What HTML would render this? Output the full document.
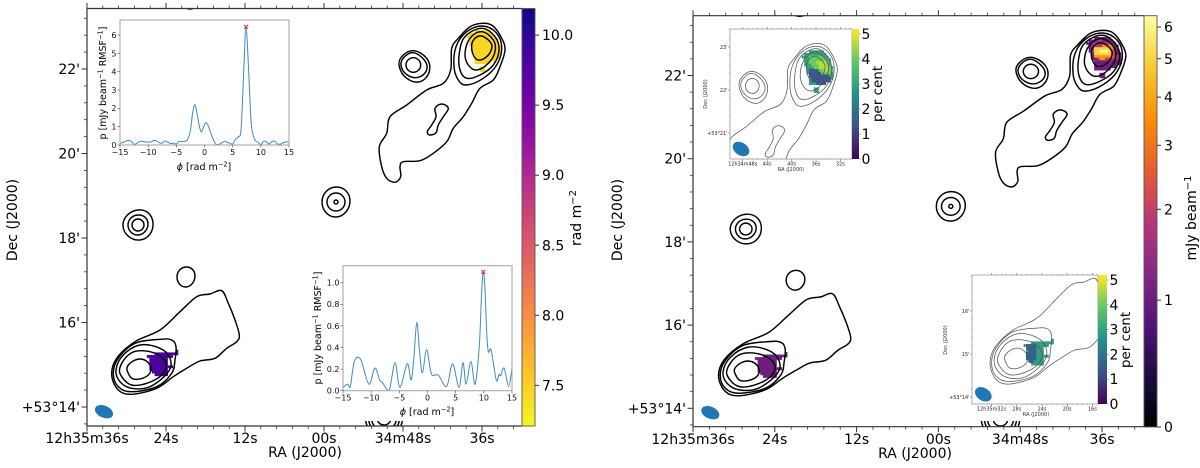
<!DOCTYPE html>
<html lang="en">
<head>
<meta charset="utf-8">
<title>Radio galaxy polarization maps</title>
<style>
html,body{margin:0;padding:0;background:#fff;width:1200px;height:468px;overflow:hidden}
svg{display:block;font-family:"DejaVu Sans","Liberation Sans",sans-serif}
</style>
</head>
<body>
<svg id="fig" xmlns="http://www.w3.org/2000/svg" width="1200" height="468" viewBox="0 0 1200 468">
  <defs>
    <linearGradient id="gPlasma" x1="0" y1="0" x2="0" y2="1">
      <stop offset="0" stop-color="#0d0887"/><stop offset=".1" stop-color="#41049d"/><stop offset=".2" stop-color="#6a00a8"/><stop offset=".3" stop-color="#8f0da4"/><stop offset=".4" stop-color="#b12a90"/><stop offset=".5" stop-color="#cc4778"/><stop offset=".6" stop-color="#e16462"/><stop offset=".7" stop-color="#f2844b"/><stop offset=".8" stop-color="#fca636"/><stop offset=".9" stop-color="#fcce25"/><stop offset="1" stop-color="#f0f921"/>
    </linearGradient>
    <linearGradient id="gInferno" x1="0" y1="1" x2="0" y2="0">
      <stop offset="0" stop-color="#000004"/><stop offset=".125" stop-color="#1b0c41"/><stop offset=".25" stop-color="#51127c"/><stop offset=".375" stop-color="#862781"/><stop offset=".5" stop-color="#b73779"/><stop offset=".625" stop-color="#e65d2f"/><stop offset=".75" stop-color="#f98e09"/><stop offset=".875" stop-color="#f8c932"/><stop offset="1" stop-color="#fcffa4"/>
    </linearGradient>
    <linearGradient id="gViridis" x1="0" y1="1" x2="0" y2="0">
      <stop offset="0" stop-color="#440154"/><stop offset=".25" stop-color="#3b528b"/><stop offset=".5" stop-color="#21918c"/><stop offset=".75" stop-color="#5ec962"/><stop offset="1" stop-color="#fde725"/>
    </linearGradient>
    <clipPath id="clipL"><rect x="87" y="8.5" width="435" height="417.5"/></clipPath>
    <clipPath id="clipR"><rect x="693" y="15.7" width="451" height="411"/></clipPath>
    <clipPath id="clipIA"><rect x="730" y="29" width="122" height="130"/></clipPath>
    <clipPath id="clipIB"><rect x="972" y="275" width="126" height="129"/></clipPath>
    <clipPath id="clipSA"><rect x="120" y="20" width="169" height="125"/></clipPath>
    <clipPath id="clipSB"><rect x="343" y="265.7" width="169" height="125"/></clipPath>
  </defs>

  <text x="305" y="457" font-size="14" text-anchor="middle">RA (J2000)</text>
  <text transform="translate(17,220) rotate(-90)" font-size="14" text-anchor="middle">Dec (J2000)</text>
  <text transform="translate(581,218) rotate(-90)" font-size="14" text-anchor="middle">rad m<tspan font-size="10" dy="-5">−2</tspan></text>

  <text x="915" y="458" font-size="14" text-anchor="middle">RA (J2000)</text>
  <text transform="translate(622,220) rotate(-90)" font-size="14" text-anchor="middle">Dec (J2000)</text>
  <text transform="translate(1196,218) rotate(-90)" font-size="14" text-anchor="middle">mJy beam<tspan font-size="10" dy="-5">−1</tspan></text>

  <g id="layer"></g>

  <text x="204" y="170" font-size="9.5" text-anchor="middle"><tspan font-style="italic">ϕ</tspan> [rad m<tspan font-size="6.6" dy="-3.4">−2</tspan><tspan dy="3.4">]</tspan></text>
  <text transform="translate(106,83) rotate(-90)" font-size="9.5" text-anchor="middle">p [mJy beam<tspan font-size="6.6" dy="-3.4">−1</tspan><tspan dy="3.4"> RMSF</tspan><tspan font-size="6.6" dy="-3.4">−1</tspan><tspan dy="3.4">]</tspan></text>
  <text x="427" y="415" font-size="9.5" text-anchor="middle"><tspan font-style="italic">ϕ</tspan> [rad m<tspan font-size="6.6" dy="-3.4">−2</tspan><tspan dy="3.4">]</tspan></text>
  <text transform="translate(321,328) rotate(-90)" font-size="9.5" text-anchor="middle">p [mJy beam<tspan font-size="6.6" dy="-3.4">−1</tspan><tspan dy="3.4"> RMSF</tspan><tspan font-size="6.6" dy="-3.4">−1</tspan><tspan dy="3.4">]</tspan></text>

  <text x="791" y="171" font-size="5" fill="#333" text-anchor="middle">RA (J2000)</text>
  <text transform="translate(707,94) rotate(-90)" font-size="5" fill="#333" text-anchor="middle">Dec (J2000)</text>
  <text transform="translate(882,94) rotate(-90)" font-size="13.5" text-anchor="middle">per cent</text>
  <text x="1036" y="416" font-size="5" fill="#333" text-anchor="middle">RA (J2000)</text>
  <text transform="translate(947,340) rotate(-90)" font-size="5" fill="#333" text-anchor="middle">Dec (J2000)</text>
  <text transform="translate(1130,340) rotate(-90)" font-size="13.5" text-anchor="middle">per cent</text>
</svg>

<script>
// ---------- Spectrum data (Faraday depth, polarized intensity) ----------
const phiA = [-15,-14.5,-14,-13.5,-13,-12.5,-12,-11.5,-11,-10.5,-10,-9.5,-9,-8.5,-8,-7.5,-7,-6.5,-6,-5.5,-5,-4.5,-4,-3.5,-3,-2.5,-2.1,-1.7,-1.3,-1,-0.6,-0.2,0.2,0.6,1,1.5,2,2.5,3,3.5,4,4.5,5,5.5,6,6.5,7,7.37,7.8,8.2,8.5,9,9.5,10,10.5,11,11.5,12,12.5,13,13.5,14,14.5,15];
const pA = [0.1,0.13,0.2,0.25,0.2,0.03,0.1,0.2,0.2,0.17,0.16,0.17,0.25,0.22,0.12,0.1,0.22,0.15,0.08,0.1,0.05,0.2,0.18,0.2,0.3,0.8,1.75,2.2,1.7,1.15,0.72,0.95,1.22,1.1,0.75,0.35,0.05,0.03,0.1,0.2,0.15,0.1,0.05,0.3,0.45,0.9,4.3,6.45,4.3,1.6,0.7,0.25,0.15,0.02,0.2,0.18,0.05,0.2,0.2,0.05,0.05,0.12,0.17,0.16];
const peakA = [7.37, 6.45];
const xTicksA = [-15,-10,-5,0,5,10,15];
const yTicksA = [0,1,2,3,4,5,6];

const phiB = [-15,-14.2,-13.7,-13.1,-12.45,-11.7,-10.4,-9.35,-8.5,-8,-7.3,-6.7,-5.75,-4.9,-3.6,-2.9,-2.4,-1.9,-1.4,-0.9,-0.15,0.7,1.9,3.4,4.45,5.6,6.3,6.85,7.7,8.45,9.2,9.6,9.9,10.2,10.5,10.8,11.3,12.2,12.7,13,13.6,14.4,15];
const pB = [0.03,0.06,0.04,0.25,0.31,0.27,0.06,0.21,0.1,0.075,0.02,0.02,0.26,0.03,0.25,0.1,0.32,0.63,0.36,0.165,0.38,0.155,0.145,0.04,0.25,0.03,0.26,0.06,0.27,0.06,0.42,0.9,1.1,0.95,0.55,0.36,0.375,0.1,0.15,0.14,0.21,0.04,0.21];
const peakB = [9.9, 1.1];
const xTicksB = [-15,-10,-5,0,5,10,15];
const yTicksB = [0,0.2,0.4,0.6,0.8,1.0];

// ---------- Sky contours: one unit = 1/79 of 12 s in RA, 1/84.5 of 2' in Dec, origin 12h35m36s +53°14' ----------
const contourNorthOuter = [[395.7,383.7],[406,381],[414.7,368.7],[418,357],[413,340.3],[406.3,327],[393,318.7],[384.7,303.7],[376.3,290.3],[366.3,278.7],[359.7,265.3],[346.3,253.7],[333,246.3],[316.3,245.3],[313,240.3],[313.7,230.3],[308,224.7],[299.7,228.7],[294.7,240.3],[292.3,260.3],[299.7,273.7],[303,290.3],[319.7,302],[339.7,317],[356.3,323.7],[363.7,337],[364.7,358.7],[371.3,368.7],[383,380.3]];
const contourNorth2 = [[395.7,381],[409.7,373.7],[414.7,358.7],[409.7,342],[396.3,328.7],[379.7,322],[371.3,327],[367,340.3],[369,360.3],[379.7,375.3]];
const contourNorth3 = [[394.7,378.7],[408,370.3],[412,357],[406.3,342],[393,332],[379.7,328.7],[373,337],[372.3,353.7],[378,370.3]];
const contourNorth4 = [[394.7,375.3],[406.3,367],[408,355.3],[401.3,343.7],[389.7,337],[381.3,342],[378,353.7],[383,368.7]];
const contourNorth5 = [[394.7,371],[403,365.3],[404.7,358.7],[399.7,350.3],[391.3,347],[386.3,352],[384.7,362],[388,368.7]];
const contourJetKnot = [[354.7,303],[361.3,298.7],[356.3,290.3],[351.3,282],[349,274.3],[343,272],[340.3,275.3],[344.7,282],[349,290.3],[348,298.7]];
const contourRing1 = [[326.3,356.3],[339.7,348.7],[342.3,335.3],[333,325.3],[319.7,328.7],[312.3,340.3],[314.7,350.3]];
const contourRing2 = [[326.3,354.3],[337.3,347],[339.7,337],[331.3,329.7],[320.3,332],[314,341.3],[317,349.7]];
const contourRing3 = [[326.3,349.3],[333.7,342],[326.3,334.7],[319,342]];
const contourMid1 = [[249,220],[263,206],[249,190],[235,205]];
const contourMid2 = [[249,214],[258,205],[249,196],[240,205]];
const contourMid3 = [[249,207],[251,205],[249,203],[247,205]];
const contourWest1 = [[51,197],[66,184],[53,167],[36,181]];
const contourWest2 = [[51,192],[61,183],[51,172],[41,182]];
const contourWest3 = [[51,188],[57,182],[51,176],[45,182]];
const contourSmall = [[99,140],[108,131],[99,120],[90,130]];
const contourTopArc = [[103,410],[111,404],[103,398],[95,404]];
const contourBottomA = [[297,-4],[304,-11],[297,-18],[290,-11]];
const contourBottomB = [[297,1.5],[309.5,-11],[297,-23.5],[284.5,-11]];
const contourBottomC = [[297,4.5],[312.5,-11],[297,-26.5],[281.5,-11]];
const contourBottomD = [[297,7.5],[315.5,-11],[297,-29.5],[278.5,-11]];
const contourSouthOuter = [[134.7,116.3],[141.3,103.7],[148,87],[152.3,72],[149.7,65.3],[139.7,58.7],[128,48.7],[113,46],[99.7,38.7],[86.3,30.3],[69.7,18.7],[44.7,12.7],[31.3,17],[24.7,32],[29.7,48.7],[48,65.3],[73,77],[93,95.3],[109.7,110.3],[123,113]];
const contourSouth2 = [[73,67.7],[84.7,67],[89,60.3],[88,47],[84.7,33.7],[69.7,20.3],[44.7,15.3],[31.3,20.3],[26.3,33.7],[31.3,48.7],[48,63.7]];
const contourSouth3 = [[53,62],[73,58.7],[83,48.7],[81.3,35.3],[63,20.3],[44.7,18.7],[33,25.3],[29,37],[36.3,52]];
const contourSouth4 = [[53,56.3],[69.7,53],[79,43.7],[74.7,32],[59.7,23.7],[44.7,22],[34.7,30.3],[33,39.7],[41.3,52]];
const contourSouth5 = [[53,48],[63,42],[61.3,32],[48,27.7],[41.3,33.7],[41.3,42]];
const northContours = [contourNorthOuter,contourNorth2,contourNorth3,contourNorth4,contourNorth5,contourJetKnot,contourRing1,contourRing2,contourRing3];
const southContours = [contourSouthOuter,contourSouth2,contourSouth3,contourSouth4,contourSouth5];
const otherContours = [contourMid1,contourMid2,contourMid3,contourWest1,contourWest2,contourWest3,contourSmall,contourTopArc,contourBottomA,contourBottomB,contourBottomC,contourBottomD];

// ---------- Polarized emission regions (same sky units) ----------
const maskNorth = [[380.2,372.2],[388.3,376.6],[401.1,376.6],[409.2,368.8],[414,358.7],[413,348.5],[404.4,345.1],[397.9,343.4],[388.3,342.8],[388.3,348.5],[385,355.3],[382.8,363.7]];
const maskNorthPatch = [[393,339.5],[398.5,339.5],[398.5,334.5],[393,334.5]];
const maskSouth = [[59.5,51],[69.5,53.5],[77.6,53.5],[90,56],[90,52],[84,50.5],[79.2,49],[80.8,42.3],[87,43],[87,39],[80.1,37.5],[82,30.5],[72.7,30.5],[64.7,34.5],[61.1,41.6],[64,46.4]];
const intensityLayer2 = [[385,370.5],[389.9,373.9],[402.7,372.2],[408.5,363.7],[410.8,355.3],[402.7,351.9],[389.9,354.3],[386,360.4]];
const intensityLayer3 = [[386.6,367.1],[404.4,368.8],[405.3,357],[396.3,354.3],[388.3,356.3]];
const intensityLayer4 = [[388.3,366.1],[403.4,366.1],[403.4,359.7],[388.3,359.7]];
const intensityLayer5 = [[391.5,364.4],[401.1,364.4],[401.1,361.4],[391.5,361.4]];
const fracNorthLow = [[386.8,357.7],[404.8,357.7],[409.4,352.8],[410.1,346.2],[399.4,342],[390.4,346.2]];
const fracNorthHigh = [[388.6,370.8],[401.2,372.4],[408.3,364.2],[413,357.7],[408.3,352.8],[401.2,355],[394,359.3],[388.6,364.2]];
const fracNorthPeak = [[394,367.5],[403,367.5],[410.1,359.3],[404.8,356],[397.6,361]];
const fracSouthLow = [[60.6,50.1],[66.5,53.4],[71.7,51.1],[71.7,36.4],[66.5,33.8],[63,38],[64,46.2]];

// Values of each region
const rmNorth = 7.45, rmSouth = 9.83;
const intensityBase = 1.05, intensityValues = [1.7, 3.6, 5.0, 6.2];
const fracBaseNorth = 3.0, fracLowNorth = 1.4, fracHighNorth = 4.0, fracPeakNorth = 4.6;
const fracBaseSouth = 2.9, fracLowSouth = 1.6;

// ---------- Axis tick data ----------
const raTickSeconds = [0,12,24,36,48,60];
const raTickLabels = ['12h35m36s','24s','12s','00s','34m48s','36s'];
const decTickArcmin = [14,16,18,20,22];
const decTickLabels = ["+53°14'","16'","18'","20'","22'"];
const rmTicks = [7.5,8.0,8.5,9.0,9.5,10.0];
const intensityTicks = [0,1,2,3,4,5,6];
const fracTicks = [0,1,2,3,4,5];
const insetARaSec = [48,44,40,36,32];
const insetARaLabels = ['12h34m48s','44s','40s','36s','32s'];
const insetADec = [23,22,21];
const insetADecLabels = ["23'","22'","+53°21'"];
const insetBRaSec = [32,28,24,20,16];
const insetBRaLabels = ['12h35m32s','28s','24s','20s','16s'];
const insetBDec = [16,15,14];
const insetBDecLabels = ["16'","15'","+53°14'"];

const NS = 'http://www.w3.org/2000/svg';
const layer = document.getElementById('layer');

function mk(tag, parent, name, interact, attrs) {
  const el = document.createElementNS(NS, tag);
  
  
  for (const k in attrs) el.setAttribute(k, attrs[k]);
  parent.appendChild(el);
  return el;
}
function label(parent, name, x, y, str, size, anchor, fill) {
  const t = mk('text', parent, name, 'false', {x: x, y: y, 'font-size': size, 'text-anchor': anchor || 'middle', fill: fill || '#000'});
  t.textContent = str;
  return t;
}
function tick(parent, name, x1, y1, x2, y2, col, w) {
  mk('line', parent, name, 'false', {x1: x1, y1: y1, x2: x2, y2: y2, stroke: col, 'stroke-width': w});
}
function smooth(pts, closed) {
  const n = pts.length;
  const g = i => closed ? pts[(i + n) % n] : pts[Math.max(0, Math.min(n - 1, i))];
  // closed curves use the handle length that reproduces a circle for n evenly spaced points
  const k = closed ? (4 / 3) * Math.tan(Math.PI / (2 * n)) / (2 * Math.sin(2 * Math.PI / n)) : 1 / 6;
  let d = 'M' + pts[0][0].toFixed(2) + ' ' + pts[0][1].toFixed(2);
  const last = closed ? n : n - 1;
  for (let i = 0; i < last; i++) {
    const p0 = g(i - 1), p1 = g(i), p2 = g(i + 1), p3 = g(i + 2);
    const c1 = [p1[0] + (p2[0] - p0[0]) * k, p1[1] + (p2[1] - p0[1]) * k];
    const c2 = [p2[0] - (p3[0] - p1[0]) * k, p2[1] - (p3[1] - p1[1]) * k];
    d += 'C' + c1[0].toFixed(2) + ' ' + c1[1].toFixed(2) + ' ' + c2[0].toFixed(2) + ' ' + c2[1].toFixed(2) + ' ' + p2[0].toFixed(2) + ' ' + p2[1].toFixed(2);
  }
  return d + (closed ? 'Z' : '');
}
function cmap(stops, t) {
  t = Math.max(0, Math.min(1, t));
  const f = t * (stops.length - 1), i = Math.min(stops.length - 2, Math.floor(f)), u = f - i;
  const a = stops[i], b = stops[i + 1];
  return 'rgb(' + [0,1,2].map(c => Math.round(a[c] + (b[c] - a[c]) * u)).join(',') + ')';
}
const plasmaStops = [[13,8,135],[65,4,157],[106,0,168],[143,13,164],[177,42,144],[204,71,120],[225,100,98],[242,132,75],[252,166,54],[252,206,37],[240,249,33]];
const infernoStops = [[0,0,4],[27,12,65],[81,18,124],[134,39,129],[183,55,121],[230,93,47],[249,142,9],[248,201,50],[252,255,164]];
const viridisStops = [[68,1,84],[59,82,139],[33,145,140],[94,201,98],[253,231,37]];
const rmT = v => (10.19 - v) / (10.19 - 7.21);
const asinhNorm = v => Math.asinh(v / 1.3) / Math.asinh(6.4 / 1.3);
const fracT = v => v / 5.2;

function skyMap(ox, oy, sx, sy) {
  return p => [ox + p[0] * sx, oy - p[1] * sy];
}
function drawContours(parent, map, color, w, prefix) {
  const all = [].concat(northContours, southContours, otherContours);
  all.forEach(c => {
    mk('path', parent, prefix + '-contour', 'false', {d: smooth(c.map(map), true), fill: 'none', stroke: color, 'stroke-width': w});
  });
}
function insidePoly(pts, x, y) {
  let inside = false;
  for (let i = 0, j = pts.length - 1; i < pts.length; j = i++) {
    const a = pts[i], b = pts[j];
    if ((a[1] > y) !== (b[1] > y) && x < (b[0] - a[0]) * (y - a[1]) / (b[1] - a[1]) + a[0]) inside = !inside;
  }
  return inside;
}
// Regions are painted as blocks of map pixels, like the image they come from
function region(parent, map, pts, color, name) {
  const step = 2.6;
  const xs = pts.map(p => p[0]), ys = pts.map(p => p[1]);
  const xa = Math.floor(Math.min(...xs) / step), xb = Math.ceil(Math.max(...xs) / step);
  const ya = Math.floor(Math.min(...ys) / step), yb = Math.ceil(Math.max(...ys) / step);
  let d = '';
  for (let i = xa; i <= xb; i++) {
    for (let j = ya; j <= yb; j++) {
      if (!insidePoly(pts, (i + .5) * step, (j + .5) * step)) continue;
      const p = map([i * step, (j + 1) * step]), q = map([(i + 1) * step, j * step]);
      d += 'M' + p[0].toFixed(1) + ' ' + p[1].toFixed(1) + 'H' + (q[0] + .3).toFixed(1) + 'V' + (q[1] + .3).toFixed(1) + 'H' + p[0].toFixed(1) + 'Z';
    }
  }
  mk('path', parent, name, 'false', {d: d, fill: color});
}
function beam(parent, name, x, y, rx, ry, rot) {
  mk('ellipse', parent, name, 'false', {cx: x, cy: y, rx: rx, ry: ry, fill: '#1f77b4', transform: 'rotate(' + rot + ' ' + x + ' ' + y + ')'});
}

function mainPanel(cfg) {
  const g = mk('g', layer, cfg.id + '-panel', 'false', {});
  const X = s => cfg.x0 + s * cfg.pxPerSec;
  const Y = d => cfg.y14 - (d - 14) * cfg.pxPerArcmin;
  const map = skyMap(cfg.x0, cfg.y14, cfg.sx, cfg.sy);
  const clipped = mk('g', g, cfg.id + '-map-area', 'false', {'clip-path': 'url(#' + cfg.clip + ')'});
  cfg.blobs(clipped, map);
  drawContours(clipped, map, '#000', 1.45, cfg.id);
  beam(g, cfg.id + '-beam', cfg.beam[0], cfg.beam[1], 9.5, 6, 24);

  // spines
  const spine = '#333';
  tick(g, cfg.id + '-left-spine', cfg.x0, cfg.top, cfg.x0, cfg.bot, spine, 1.2);
  tick(g, cfg.id + '-bottom-spine', cfg.x0, cfg.bot, cfg.x1, cfg.bot, spine, 1.2);
  tick(g, cfg.id + '-top-spine', cfg.x0, cfg.top, cfg.x1, cfg.top, spine, 1.2);

  // RA ticks
  raTickSeconds.forEach((s, i) => {
    tick(g, cfg.id + '-ra-tick-bottom', X(s), cfg.bot, X(s), cfg.bot + 5.5, spine, 1);
    tick(g, cfg.id + '-ra-tick-top', X(s), cfg.top, X(s), cfg.top - 5.5, spine, 1);
    label(g, cfg.id + '-ra-label', X(s), cfg.labelY, raTickLabels[i], 14, 'middle');
  });
  for (let k = 1; k <= 27; k++) {
    const s = k * 2.4;
    if (k % 5 === 0 || X(s) >= cfg.x1) continue;
    tick(g, cfg.id + '-ra-minor-bottom', X(s), cfg.bot, X(s), cfg.bot + 3, spine, .8);
    tick(g, cfg.id + '-ra-minor-top', X(s), cfg.top, X(s), cfg.top - 3, spine, .8);
  }
  // Dec ticks
  decTickArcmin.forEach((d, i) => {
    tick(g, cfg.id + '-dec-tick', cfg.x0, Y(d), cfg.x0 - 5.5, Y(d), spine, 1);
    label(g, cfg.id + '-dec-label', cfg.x0 - 7, Y(d) + 5, decTickLabels[i], 14, 'end');
  });
  for (let k = -1; k <= 24; k++) {
    const d = 14 + k * 0.4;
    if (((k % 5) + 5) % 5 === 0 || Y(d) <= cfg.top || Y(d) >= cfg.bot) continue;
    tick(g, cfg.id + '-dec-minor', cfg.x0, Y(d), cfg.x0 - 3, Y(d), spine, .8);
  }
  return g;
}

function spectrum(cfg) {
  const g = mk('g', layer, cfg.id + '-inset', 'false', {});
  mk('rect', g, cfg.id + '-background', 'false', cfg.bg);
  const X = v => cfg.x0 + (v + 15) * (cfg.x1 - cfg.x0) / 30;
  const Y = v => cfg.y0 - v * cfg.pxPerUnit;
  const pts = cfg.phi.map((f, i) => [X(f), Y(cfg.p[i])]);
  mk('path', g, cfg.id + '-line', 'false', {d: smooth(pts, false), fill: 'none', stroke: '#1f77b4', 'stroke-width': 1, 'stroke-opacity': .85, 'clip-path': 'url(#' + cfg.clip + ')'});
  const mx = X(cfg.peak[0]), my = Y(cfg.peak[1]);
  mk('path', g, cfg.id + '-peak-marker', 'false', {d: 'M' + (mx-2) + ' ' + (my-2) + 'L' + (mx+2) + ' ' + (my+2) + 'M' + (mx-2) + ' ' + (my+2) + 'L' + (mx+2) + ' ' + (my-2), stroke: '#f01010', 'stroke-width': .9, fill: 'none'});
  mk('rect', g, cfg.id + '-frame', 'false', {x: cfg.x0, y: cfg.top, width: cfg.x1 - cfg.x0, height: cfg.y0 - cfg.top, fill: 'none', stroke: '#aaa', 'stroke-width': 1.1});
  cfg.xTicks.forEach(v => {
    tick(g, cfg.id + '-x-tick', X(v), cfg.y0, X(v), cfg.y0 + 2.5, '#444', .6);
    label(g, cfg.id + '-x-label', X(v), cfg.y0 + 10, (v < 0 ? '−' : '') + Math.abs(v), 8, 'middle', '#111');
  });
  cfg.yTicks.forEach(v => {
    tick(g, cfg.id + '-y-tick', cfg.x0, Y(v), cfg.x0 - 2.5, Y(v), '#444', .6);
    label(g, cfg.id + '-y-label', cfg.x0 - 3.5, Y(v) + 2.9, cfg.fmt(v), 8, 'end', '#111');
  });
}

function mapInset(cfg) {
  const g = mk('g', layer, cfg.id + '-inset', 'false', {});
  mk('rect', g, cfg.id + '-background', 'false', cfg.bg);
  const map = skyMap(cfg.ox, cfg.oy, cfg.sx, cfg.sy);
  const c = mk('g', g, cfg.id + '-map-area', 'false', {'clip-path': 'url(#' + cfg.clip + ')'});
  cfg.blobs(c, map);
  drawContours(c, map, '#555', .75, cfg.id);
  beam(g, cfg.id + '-beam', cfg.beam[0], cfg.beam[1], 9, 6.3, 33);
  mk('rect', g, cfg.id + '-frame', 'false', {x: cfg.x0, y: cfg.y0, width: cfg.x1 - cfg.x0, height: cfg.y1 - cfg.y0, fill: 'none', stroke: '#999', 'stroke-width': .8});
  cfg.raSec.forEach((s, i) => {
    const x = cfg.xOf(s);
    tick(g, cfg.id + '-ra-tick', x, cfg.y1, x, cfg.y1 + 2, '#555', .5);
    tick(g, cfg.id + '-ra-tick-top', x, cfg.y0, x, cfg.y0 - 2, '#555', .5);
    label(g, cfg.id + '-ra-label', x, cfg.y1 + 6.3, cfg.raLabels[i], 4.9, 'middle', '#222');
    for (let k = 1; k < 5; k++) {
      const xm = cfg.xOf(s - k * .8);
      if (xm > cfg.x1 || xm < cfg.x0) continue;
      tick(g, cfg.id + '-ra-minor', xm, cfg.y1, xm, cfg.y1 + 1.2, '#777', .4);
      tick(g, cfg.id + '-ra-minor-top', xm, cfg.y0, xm, cfg.y0 - 1.2, '#777', .4);
    }
  });
  cfg.dec.forEach((d, i) => {
    const y = cfg.yOf(d);
    tick(g, cfg.id + '-dec-tick', cfg.x0, y, cfg.x0 - 2, y, '#555', .5);
    label(g, cfg.id + '-dec-label', cfg.x0 - 2.5, y + 1.8, cfg.decLabels[i], 4.9, 'end', '#222');
    for (let k = 1; k < 5; k++) {
      const ym = cfg.yOf(d + k * .2);
      if (ym > cfg.y1 || ym < cfg.y0) continue;
      tick(g, cfg.id + '-dec-minor', cfg.x0, ym, cfg.x0 - 1.2, ym, '#777', .4);
    }
  });
  // percentage colorbar
  mk('rect', g, cfg.id + '-colorbar', 'false', {x: cfg.x1, y: cfg.y0, width: cfg.cbW, height: cfg.y1 - cfg.y0, fill: 'url(#gViridis)'});
  fracTicks.forEach(v => {
    const y = cfg.y1 - v * (cfg.y1 - cfg.y0) / 5.2;
    tick(g, cfg.id + '-colorbar-tick', cfg.x1 + cfg.cbW, y, cfg.x1 + cfg.cbW + 1.5, y, '#444', .5);
    label(g, cfg.id + '-colorbar-label', cfg.x1 + cfg.cbW + 2.5, y + 5, String(v), 14, 'start');
  });
}

// ---------- Left panel: rotation measure ----------
mainPanel({
  id: 'left', x0: 87, x1: 522, top: 8.5, bot: 426, y14: 407, pxPerSec: 79 / 12, pxPerArcmin: 42.25,
  sx: 1, sy: 1, clip: 'clipL', labelY: 443, beam: [104, 411.7],
  blobs: (c, map) => {
    const col = cmap(plasmaStops, rmT(rmNorth));
    region(c, map, maskNorth, col, 'rm-north-region');
    region(c, map, maskNorthPatch, col, 'rm-north-patch');
    region(c, map, maskSouth, cmap(plasmaStops, rmT(rmSouth)), 'rm-south-region');
  }
});
// ---------- Right panel: polarized intensity ----------
mainPanel({
  id: 'right', x0: 693, x1: 1144, top: 15.7, bot: 426.7, y14: 408.3, pxPerSec: 409 / 60, pxPerArcmin: 41.6,
  sx: 1.0354, sy: .985, clip: 'clipR', labelY: 444, beam: [710.3, 412.7],
  blobs: (c, map) => {
    const base = cmap(infernoStops, asinhNorm(intensityBase));
    region(c, map, maskNorth, base, 'intensity-north-region');
    region(c, map, maskNorthPatch, base, 'intensity-north-patch');
    [intensityLayer2, intensityLayer3, intensityLayer4, intensityLayer5].forEach((l, i) => {
      region(c, map, l, cmap(infernoStops, asinhNorm(intensityValues[i])), 'intensity-core-layer');
    });
    region(c, map, maskSouth, base, 'intensity-south-region');
  }
});

// Left colorbar
(function () {
  const g = mk('g', layer, 'rm-colorbar', 'false', {});
  const top = 8.5, bot = 426, x = 522, w = 13;
  mk('rect', g, 'rm-colorbar-gradient', 'false', {x: x, y: top, width: w, height: bot - top, fill: 'url(#gPlasma)', stroke: '#555', 'stroke-width': .9});
  const Y = v => top + (10.19 - v) / (10.19 - 7.21) * (bot - top);
  rmTicks.forEach(v => {
    tick(g, 'rm-colorbar-tick', x + w, Y(v), x + w + 4, Y(v), '#333', 1);
    label(g, 'rm-colorbar-label', x + w + 7, Y(v) + 5, v.toFixed(1), 14, 'start');
  });
})();
// Right colorbar
(function () {
  const g = mk('g', layer, 'intensity-colorbar', 'false', {});
  const top = 15.7, bot = 427, x = 1144, w = 13;
  mk('rect', g, 'intensity-colorbar-gradient', 'false', {x: x, y: top, width: w, height: bot - top, fill: 'url(#gInferno)', stroke: '#555', 'stroke-width': .9});
  const Y = v => bot - asinhNorm(v) * (bot - top);
  intensityTicks.forEach(v => {
    tick(g, 'intensity-colorbar-tick', x + w, Y(v), x + w + 4, Y(v), '#333', 1);
    label(g, 'intensity-colorbar-label', x + w + 7, Y(v) + 5, String(v), 14, 'start');
  });
})();

// ---------- Spectrum insets ----------
spectrum({
  id: 'spectrum-a', x0: 120, x1: 289, y0: 145, top: 20, pxPerUnit: 18.33,
  phi: phiA, p: pA, peak: peakA, xTicks: xTicksA, yTicks: yTicksA, clip: 'clipSA',
  fmt: v => String(v), bg: {x: 94, y: 11, width: 206, height: 165, fill: '#fff'}
});
spectrum({
  id: 'spectrum-b', x0: 343, x1: 512, y0: 390.7, top: 265.7, pxPerUnit: 108,
  phi: phiB, p: pB, peak: peakB, xTicks: xTicksB, yTicks: yTicksB, clip: 'clipSB',
  fmt: v => v.toFixed(1), bg: {x: 313, y: 258, width: 208, height: 163, fill: '#fff'}
});

// ---------- Fractional polarization insets ----------
mapInset({
  id: 'inset-a', x0: 730, x1: 852, y0: 29, y1: 159, cbW: 7, clip: 'clipIA',
  ox: 449.8, oy: 434.1, sx: .927, sy: 1.018, beam: [741, 149],
  xOf: s => 816 - (s - 36) * 6.1, yOf: d => 90 - (d - 22) * 43,
  raSec: insetARaSec, raLabels: insetARaLabels, dec: insetADec, decLabels: insetADecLabels,
  bg: {x: 701, y: 21, width: 192, height: 152, fill: '#fff'},
  blobs: (c, map) => {
    region(c, map, maskNorth, cmap(viridisStops, fracT(fracBaseNorth)), 'fraction-north-region');
    region(c, map, maskNorthPatch, cmap(viridisStops, fracT(fracBaseNorth)), 'fraction-north-patch');
    region(c, map, fracNorthLow, cmap(viridisStops, fracT(fracLowNorth)), 'fraction-north-low');
    region(c, map, fracNorthHigh, cmap(viridisStops, fracT(fracHighNorth)), 'fraction-north-high');
    region(c, map, fracNorthPeak, cmap(viridisStops, fracT(fracPeakNorth)), 'fraction-north-peak');
  }
});
mapInset({
  id: 'inset-b', x0: 972, x1: 1098, y0: 275, y1: 404, cbW: 9, clip: 'clipIB',
  ox: 966.4, oy: 397, sx: .957, sy: 1.018, beam: [983.3, 394.3],
  xOf: s => 1042 - (s - 24) * 6.3, yOf: d => 354 - (d - 15) * 43,
  raSec: insetBRaSec, raLabels: insetBRaLabels, dec: insetBDec, decLabels: insetBDecLabels,
  bg: {x: 942, y: 268, width: 198, height: 153, fill: '#fff'},
  blobs: (c, map) => {
    region(c, map, maskSouth, cmap(viridisStops, fracT(fracBaseSouth)), 'fraction-south-region');
    region(c, map, fracSouthLow, cmap(viridisStops, fracT(fracLowSouth)), 'fraction-south-low');
  }
});
</script>
</body>
</html>
